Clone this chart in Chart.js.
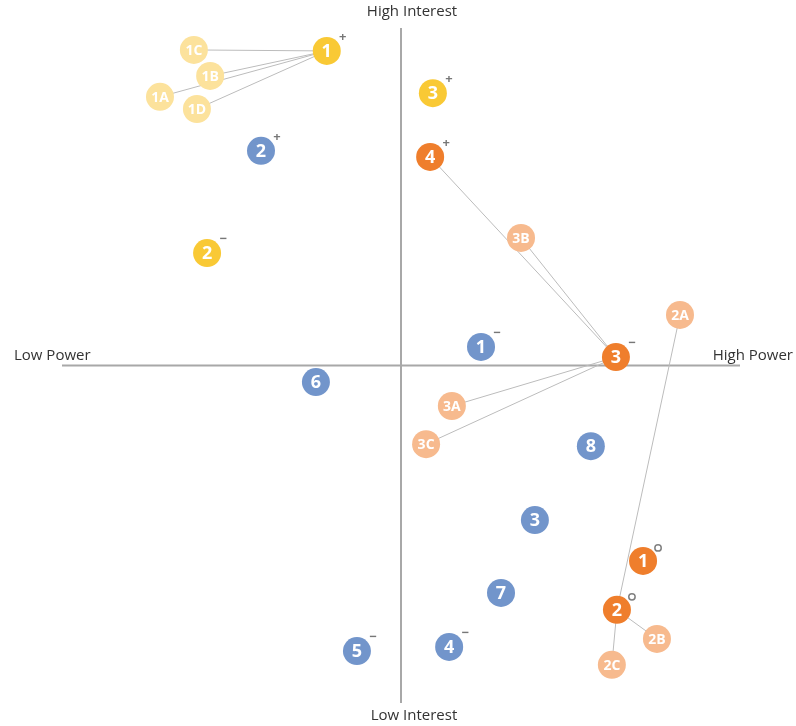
<!DOCTYPE html>
<html>
<head>
<meta charset="utf-8">
<script src="https://cdn.jsdelivr.net/npm/chart.js@4.4.0/dist/chart.umd.min.js"></script>
<style>
  html, body { margin: 0; padding: 0; background: #ffffff; }
  #wrap { width: 796px; height: 726px; }
</style>
</head>
<body>
<div id="wrap"><canvas id="myChart" width="796" height="726"></canvas></div>
<script>
// stakeholder groups: position on power (x) / interest (y), -10..10
const yellowLabels = ['1', '3', '2'];
const yellowX = [-2.19, 0.94, -5.72];
const yellowY = [9.32, 8.07, 3.33];
const yellowSigns = ['+', '+', '−'];

const paleYellowLabels = ['1C', '1B', '1A', '1D'];
const paleYellowX = [-6.11, -5.63, -7.11, -6.02];
const paleYellowY = [9.35, 8.58, 7.96, 7.60];

const blueLabels = ['2', '1', '6', '8', '3', '7', '5', '4'];
const blueX = [-4.13, 2.36, -2.51, 5.60, 3.95, 2.95, -1.30, 1.42];
const blueY = [6.36, 0.55, -0.49, -2.39, -4.58, -6.74, -8.46, -8.34];
const blueSigns = ['+', '−', '', '', '', '', '−', '−'];

const orangeLabels = ['4', '3', '1', '2'];
const orangeX = [0.86, 6.34, 7.14, 6.37];
const orangeY = [6.18, 0.25, -5.79, -7.24];
const orangeSigns = ['+', '−', '°', '°'];

const paleOrangeLabels = ['3B', '2A', '3A', '3C', '2B', '2C'];
const paleOrangeX = [3.54, 8.23, 1.50, 0.74, 7.55, 6.22];
const paleOrangeY = [3.78, 1.50, -1.20, -2.33, -8.10, -8.87];

// links: [group, label] -> [group, label]
const links = [
  [['yellow', '1'], ['paleYellow', '1C']],
  [['yellow', '1'], ['paleYellow', '1B']],
  [['yellow', '1'], ['paleYellow', '1A']],
  [['yellow', '1'], ['paleYellow', '1D']],
  [['orange', '4'], ['orange', '3']],
  [['paleOrange', '3B'], ['orange', '3']],
  [['orange', '3'], ['paleOrange', '3A']],
  [['orange', '3'], ['paleOrange', '3C']],
  [['paleOrange', '2A'], ['orange', '2']],
  [['orange', '2'], ['paleOrange', '2B']],
  [['orange', '2'], ['paleOrange', '2C']]
];

const groups = {
  yellow: { labels: yellowLabels, x: yellowX, y: yellowY, signs: yellowSigns, color: '#F9C935' },
  paleYellow: { labels: paleYellowLabels, x: paleYellowX, y: paleYellowY, signs: [], color: '#FCE29C' },
  blue: { labels: blueLabels, x: blueX, y: blueY, signs: blueSigns, color: '#7295CB' },
  orange: { labels: orangeLabels, x: orangeX, y: orangeY, signs: orangeSigns, color: '#EF7E2C' },
  paleOrange: { labels: paleOrangeLabels, x: paleOrangeX, y: paleOrangeY, signs: [], color: '#F7BA8E' }
};

function pointOf(ref) {
  const g = groups[ref[0]];
  const i = g.labels.indexOf(ref[1]);
  return { x: g.x[i], y: g.y[i] };
}

const datasets = [];
Object.keys(groups).forEach(key => {
  const g = groups[key];
  datasets.push({
    type: 'scatter',
    label: key,
    data: g.labels.map((l, i) => ({ x: g.x[i], y: g.y[i] })),
    pointLabels: g.labels,
    pointSigns: g.signs,
    backgroundColor: g.color,
    borderWidth: 0,
    pointRadius: 14,
    pointHoverRadius: 14,
    order: 1
  });
});
links.forEach(link => {
  datasets.push({
    type: 'line',
    data: [pointOf(link[0]), pointOf(link[1])],
    borderColor: '#BCBCBC',
    borderWidth: 1,
    pointRadius: 0,
    fill: false,
    order: 5
  });
});

const quadrantPlugin = {
  id: 'quadrant',
  beforeDatasetsDraw(chart) {
    const ctx = chart.ctx;
    const area = chart.chartArea;
    const x0 = chart.scales.x.getPixelForValue(0);
    const y0 = chart.scales.y.getPixelForValue(0);
    ctx.save();
    ctx.strokeStyle = '#A8A8A8';
    ctx.lineWidth = 2;
    ctx.beginPath();
    ctx.moveTo(area.left, y0);
    ctx.lineTo(area.right, y0);
    ctx.moveTo(x0, area.top);
    ctx.lineTo(x0, area.bottom);
    ctx.stroke();

    ctx.fillStyle = '#333333';
    ctx.font = '15px "Open Sans"';
    ctx.textBaseline = 'middle';
    ctx.textAlign = 'center';
    ctx.fillText('High Interest', x0 + 11, 12);
    ctx.fillText('Low Interest', x0 + 13, 716);
    ctx.textAlign = 'left';
    ctx.fillText('Low Power', 14, y0 - 10);
    ctx.textAlign = 'right';
    ctx.fillText('High Power', 793, y0 - 10);
    ctx.restore();
  },
  afterDatasetsDraw(chart) {
    const ctx = chart.ctx;
    ctx.save();
    chart.data.datasets.forEach((ds, di) => {
      if (!ds.pointLabels) return;
      const meta = chart.getDatasetMeta(di);
      meta.data.forEach((pt, i) => {
        const txt = ds.pointLabels[i];
        ctx.fillStyle = '#ffffff';
        ctx.textAlign = 'center';
        ctx.textBaseline = 'middle';
        ctx.font = txt.length > 1 ? 'bold 14px "Open Sans"' : 'bold 18px "Open Sans"';
        ctx.fillText(txt, pt.x, pt.y + 1);
        const s = ds.pointSigns[i];
        if (!s) return;
        ctx.fillStyle = '#777777';
        ctx.strokeStyle = '#808080';
        if (s === '°') {
          ctx.lineWidth = 1.5;
          ctx.beginPath();
          ctx.arc(pt.x + 15, pt.y - 13, 3.2, 0, Math.PI * 2);
          ctx.stroke();
        } else {
          ctx.font = 'bold 13px "Open Sans"';
          ctx.fillText(s, pt.x + 16, pt.y - 14);
        }
      });
    });
    ctx.restore();
  }
};

new Chart(document.getElementById('myChart').getContext('2d'), {
  data: { datasets: datasets },
  options: {
    responsive: false,
    animation: false,
    layout: { padding: { left: 62, right: 56, top: 28, bottom: 23 } },
    scales: {
      x: { type: 'linear', min: -10, max: 10, display: false },
      y: { type: 'linear', min: -10, max: 10, display: false }
    },
    plugins: {
      legend: { display: false },
      tooltip: { enabled: false }
    }
  },
  plugins: [quadrantPlugin]
});
</script>
</body>
</html>
